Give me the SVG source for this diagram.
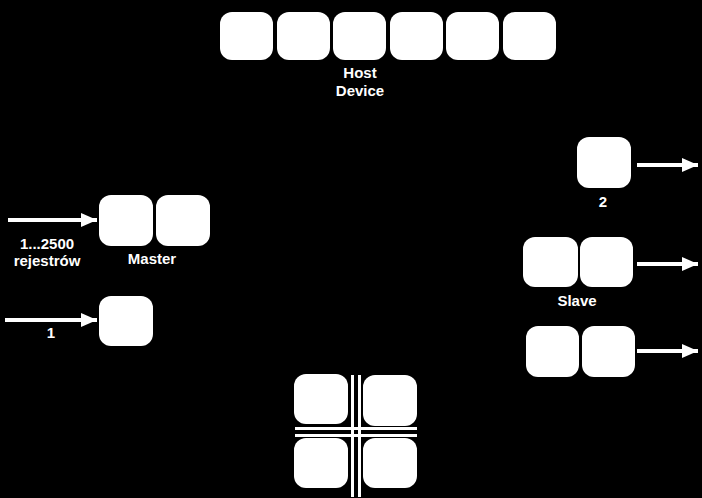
<svg xmlns="http://www.w3.org/2000/svg" width="702" height="498" viewBox="0 0 702 498">
<defs>
<style>
.b{fill:#fff;}
.t{fill:#fff;font-family:"Liberation Sans",Arial,sans-serif;font-size:15px;font-weight:bold;text-anchor:middle;}
.c{stroke:#fff;stroke-width:4;fill:none;}
.l{stroke:#fff;stroke-width:3;}
</style>
<marker id="ah" viewBox="0 0 16 14" refX="16" refY="7" markerWidth="16" markerHeight="14" markerUnits="userSpaceOnUse" orient="auto">
<path d="M0,0 L16,7 L0,14 Z" fill="#fff"/>
</marker>
</defs>
<rect width="702" height="498" fill="#000"/>
<g id="host">
<rect class="b" x="220" y="12" width="53" height="48" rx="12"/>
<rect class="b" x="277" y="12" width="53" height="48" rx="12"/>
<rect class="b" x="333" y="12" width="53" height="48" rx="12"/>
<rect class="b" x="390" y="12" width="53" height="48" rx="12"/>
<rect class="b" x="446" y="12" width="53" height="48" rx="12"/>
<rect class="b" x="503" y="12" width="53" height="48" rx="12"/>
<text class="t" x="360" y="78">Host</text>
<text class="t" x="360" y="96">Device</text>
</g>
<g id="master">
<rect class="b" x="99" y="195" width="54" height="51" rx="12"/>
<rect class="b" x="156" y="195" width="54" height="51" rx="12"/>
<text class="t" x="152" y="264">Master</text>
</g>
<g id="single">
<rect class="b" x="99" y="296" width="54" height="50" rx="12"/>
</g>
<g id="node2">
<rect class="b" x="577" y="137" width="54" height="51" rx="12"/>
<text class="t" x="603" y="207">2</text>
</g>
<g id="slave">
<rect class="b" x="523" y="237" width="55" height="50" rx="12"/>
<rect class="b" x="580" y="237" width="53" height="50" rx="12"/>
<text class="t" x="577" y="306">Slave</text>
</g>
<g id="slave2">
<rect class="b" x="526" y="326" width="53" height="51" rx="12"/>
<rect class="b" x="582" y="326" width="53" height="51" rx="12"/>
</g>
<g id="grid">
<rect class="b" x="294" y="374" width="54" height="50" rx="12"/>
<rect class="b" x="363" y="375" width="54" height="51" rx="12"/>
<rect class="b" x="294" y="438" width="54" height="50" rx="12"/>
<rect class="b" x="363" y="438" width="54" height="50" rx="12"/>
<line class="l" x1="352.5" y1="375" x2="352.5" y2="497"/>
<line class="l" x1="359.5" y1="375" x2="359.5" y2="497"/>
<line class="l" x1="295" y1="428.5" x2="417" y2="428.5"/>
<line class="l" x1="295" y1="435.5" x2="417" y2="435.5"/>
</g>
<g id="connectors">
<line class="c" x1="8" y1="220" x2="97" y2="220" marker-end="url(#ah)"/>
<text class="t" x="47" y="249">1...2500</text>
<text class="t" x="47" y="266">rejestrów</text>
<line class="c" x1="5" y1="320" x2="97" y2="320" marker-end="url(#ah)"/>
<text class="t" x="51" y="338">1</text>
<line class="c" x1="637" y1="165" x2="698" y2="165" marker-end="url(#ah)"/>
<line class="c" x1="637" y1="264" x2="698" y2="264" marker-end="url(#ah)"/>
<line class="c" x1="637" y1="351" x2="698" y2="351" marker-end="url(#ah)"/>
</g>
</svg>
